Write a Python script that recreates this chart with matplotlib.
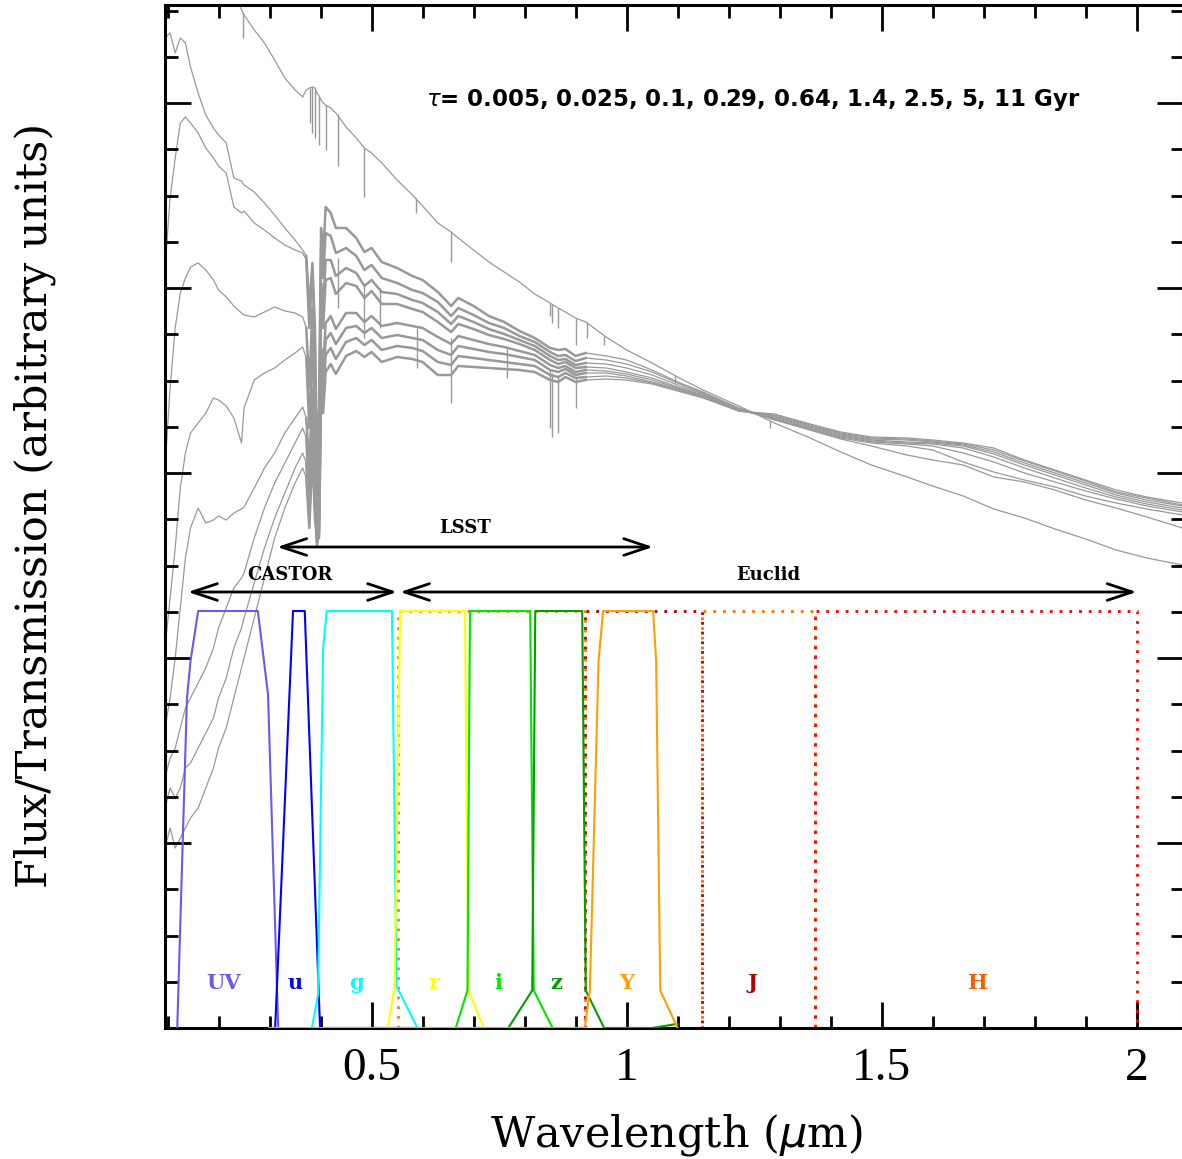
import numpy as np
import matplotlib.pyplot as plt
from matplotlib.ticker import MultipleLocator, NullFormatter

# wavelength grid (micron) shared by the model spectra
wave = [0.095, 0.105, 0.115, 0.125, 0.135, 0.145, 0.16, 0.175, 0.19, 0.20,
        0.215, 0.23, 0.245, 0.25, 0.27, 0.29, 0.31, 0.33, 0.35, 0.365,
        0.372, 0.378, 0.384, 0.389, 0.393, 0.397, 0.401, 0.405,
        0.41, 0.42, 0.43, 0.45, 0.47, 0.486, 0.50, 0.52, 0.55, 0.58,
        0.60, 0.63, 0.656, 0.67, 0.70, 0.73, 0.76, 0.79, 0.82, 0.85,
        0.866, 0.88, 0.90, 0.92, 0.96, 1.0, 1.05, 1.1, 1.15, 1.22,
        1.29, 1.36, 1.42, 1.48, 1.55, 1.60, 1.66, 1.72, 1.78, 1.84, 1.90, 1.96, 2.02, 2.09]

# model fluxes (arbitrary units), one per tau
flux_c1 = [1100, 1100, 1100, 1100, 1100, 1100, 1100, 1100, 1100, 1100,
           1090, 1040, 1018, 1013, 998, 985, 968, 950, 938, 931,
           938, 940, 941, 940, 935, 932, 928, 925,
           923, 920, 915, 901, 890, 880, 875, 865, 848, 833,
           822, 805, 796, 790, 778, 766, 756, 746, 734, 725,
           720, 716, 710, 706, 691, 678, 665, 651, 638, 622,
           605, 590, 576, 563, 551, 542, 532, 519, 510, 499, 489, 478, 470, 463]
flux_c2 = [990, 995, 975, 990, 985, 961, 935, 913, 900, 893,
           885, 850, 847, 843, 836, 825, 813, 800, 788, 778,
           772, 720, 765, 700, 560, 620, 800, 770,
           821, 815, 800, 800, 790, 776, 780, 766, 760, 752,
           748, 736, 722, 730, 722, 712, 706, 697, 690, 680,
           678, 679, 672, 675, 672, 668, 658, 646, 636, 620,
           609, 598, 589, 582, 573, 568, 563, 551, 546, 538, 528, 520, 511, 500]
flux_c3 = [760, 830, 870, 905, 911, 905, 895, 880, 870, 862,
           855, 821, 815, 817, 805, 798, 790, 783, 778, 775,
           768, 700, 760, 680, 540, 590, 780, 750,
           795, 792, 775, 780, 772, 758, 763, 750, 745, 738,
           735, 726, 712, 720, 713, 705, 700, 692, 686, 676,
           672, 673, 667, 670, 668, 664, 656, 645, 635, 619,
           608, 598, 590, 585, 582, 578, 566, 556, 548, 541, 532, 525, 519, 513]
flux_c4 = [560, 640, 700, 735, 750, 761, 765, 758, 748, 738,
           731, 722, 715, 713, 711, 716, 721, 717, 715, 711,
           700, 640, 720, 620, 520, 560, 745, 720,
           768, 768, 752, 760, 755, 742, 748, 736, 734, 728,
           725, 716, 704, 712, 706, 699, 694, 688, 682, 672,
           668, 669, 663, 665, 664, 660, 653, 643, 634, 619,
           609, 599, 591, 586, 584, 582, 575, 566, 555, 546, 537, 529, 522, 516]
flux_c5 = [380, 430, 480, 540, 575, 595, 605, 615, 630, 628,
           622, 610, 585, 620, 648, 655, 660, 668, 675, 681,
           670, 600, 690, 590, 500, 530, 720, 700,
           748, 750, 734, 745, 742, 730, 737, 724, 724, 719,
           716, 706, 696, 704, 699, 693, 689, 684, 678, 668,
           664, 666, 660, 661, 660, 656, 650, 641, 633, 618,
           610, 600, 592, 587, 585, 584, 580, 571, 560, 550, 540, 531, 524, 518]
flux_c6 = [300, 330, 370, 420, 470, 500, 520, 505, 508, 512,
           508, 515, 519, 521, 540, 560, 575, 595, 610, 621,
           610, 560, 640, 560, 490, 510, 680, 660,
           705, 712, 699, 715, 715, 706, 712, 702, 705, 702,
           700, 691, 684, 692, 688, 684, 681, 677, 673, 663,
           660, 662, 656, 658, 657, 654, 648, 640, 632, 618,
           611, 601, 593, 588, 586, 585, 582, 574, 563, 553, 543, 533, 526, 520]
flux_c7 = [250, 270, 280, 300, 320, 330, 345, 360, 380, 400,
           420, 440, 450, 455, 490, 520, 545, 565, 585, 600,
           590, 530, 610, 540, 485, 500, 660, 640,
           688, 695, 684, 700, 702, 695, 700, 690, 693, 690,
           688, 678, 673, 682, 679, 676, 674, 671, 668, 658,
           656, 659, 653, 655, 655, 652, 646, 639, 631, 617,
           612, 602, 594, 589, 588, 586, 583, 576, 565, 555, 545, 535, 528, 522]
flux_c8 = [220, 240, 230, 240, 260, 265, 280, 295, 310, 330,
           350, 380, 400, 410, 445, 480, 510, 535, 560, 575,
           565, 510, 590, 520, 483, 495, 645, 630,
           673, 680, 669, 686, 690, 683, 688, 678, 682, 680,
           677, 666, 663, 672, 670, 668, 666, 664, 662, 653,
           651, 655, 650, 651, 652, 650, 645, 638, 631, 617,
           613, 603, 595, 590, 589, 587, 584, 578, 567, 557, 547, 536, 530, 523]
flux_c9 = [180, 200, 180, 190, 200, 210, 220, 240, 260, 280,
           300, 330, 360, 370, 410, 450, 490, 520, 545, 560,
           550, 500, 575, 510, 490, 490, 630, 615,
           656, 664, 654, 672, 677, 671, 676, 666, 671, 669,
           666, 653, 653, 662, 661, 660, 659, 658, 656, 648,
           646, 651, 646, 648, 649, 648, 644, 637, 630, 617,
           614, 604, 596, 591, 590, 588, 585, 580, 568, 558, 548, 538, 531, 525]
spectra = [flux_c1, flux_c2, flux_c3, flux_c4, flux_c5, flux_c6, flux_c7, flux_c8, flux_c9]

# narrow absorption lines: wavelength, continuum, line bottom
line_wave = [0.248, 0.3798, 0.3835, 0.3889, 0.397, 0.4102, 0.434, 0.486, 0.587,
             0.6563, 0.850, 0.8545, 0.8665, 0.9015, 0.923, 0.955, 1.094, 1.282]
line_top = [1016, 940, 941, 940, 932, 923, 914, 880, 830,
            796, 725, 724, 720, 710, 706, 692, 653, 607]
line_bottom = [990, 905, 895, 890, 883, 878, 862, 831, 815,
               766, 712, 705, 700, 683, 690, 683, 645, 600]
bundle_line_wave = [0.434, 0.486, 0.517, 0.589, 0.6563, 0.7665, 0.850, 0.8545, 0.8662, 0.90]
bundle_line_top = [770, 745, 740, 700, 690, 680, 658, 655, 652, 650]
bundle_line_bottom = [720, 690, 700, 660, 625, 650, 600, 591, 595, 620]

# filter transmission curves
uv_wave = [0.119, 0.138, 0.145, 0.160, 0.277, 0.297, 0.317]
uv_trans = [0.0, 0.79, 0.88, 1.0, 1.0, 0.8, 0.0]
u_wave = [0.30, 0.311, 0.346, 0.369, 0.399, 0.60]
u_trans = [0.0, 0.0, 1.0, 1.0, 0.0, 0.0]
g_wave = [0.383, 0.395, 0.405, 0.412, 0.540, 0.549, 0.590]
g_trans = [0.0, 0.08, 0.91, 1.0, 1.0, 0.1, 0.0]
r_wave = [0.532, 0.545, 0.556, 0.683, 0.690, 0.72, 1.0]
r_trans = [0.0, 0.1, 1.0, 1.0, 0.09, 0.0, 0.0]
i_wave = [0.665, 0.688, 0.693, 0.811, 0.818, 0.855]
i_trans = [0.0, 0.09, 1.0, 1.0, 0.09, 0.0]
z_wave = [0.768, 0.815, 0.821, 0.913, 0.920, 0.956, 1.05, 1.10]
z_trans = [0.0, 0.09, 1.0, 1.0, 0.09, 0.0, 0.0, 0.01]
y_wave = [0.30, 0.918, 0.928, 0.945, 0.954, 1.052, 1.058, 1.066, 1.10]
y_trans = [0.0, 0.0, 0.09, 0.88, 1.0, 1.0, 0.88, 0.09, 0.0]

# Euclid top-hat bands (edges in micron)
euclid_edges = [(0.551, 0.918), (0.918, 1.147), (1.147, 1.37), (1.37, 2.0)]
euclid_colors = ['#ff7f00', '#b00000', '#ff7000', '#ff0000']

filter_names = ['UV', 'u', 'g', 'r', 'i', 'z', 'Y', 'J', 'H']
filter_label_x = [0.209, 0.35, 0.47, 0.623, 0.748, 0.862, 1.0, 1.246, 1.689]
filter_colors = ['#6a5aed', '#0000ff', '#00ffff', '#ffff00', '#00e600', '#00a000',
                 '#ffa000', '#b00000', '#ff5a00']

tau_text = r'$\tau$= 0.005, 0.025, 0.1, 0.29, 0.64, 1.4, 2.5, 5, 11 Gyr'

trans_scale = 417.0   # filter transmission of 1 in flux units

fig = plt.figure(figsize=(11.82, 11.59), dpi=100)
ax = fig.add_axes([165/1182, 1 - 1028/1159, 1018/1182, 1023/1159])

gray = '#999999'
for k, flux in enumerate(spectra):
    ax.plot(wave, flux, color=gray, lw=0.9, zorder=1)
    if k > 0:
        # noisy optical part of the models looks thicker
        ax.plot(wave[20:52], flux[20:52], color=gray, lw=1.8, zorder=1)
ax.vlines(line_wave, line_bottom, line_top, color=gray, lw=1.0, zorder=1)
ax.vlines(bundle_line_wave, bundle_line_bottom, bundle_line_top, color=gray, lw=1.0, zorder=1)

curves = [(uv_wave, uv_trans), (u_wave, u_trans), (g_wave, g_trans), (r_wave, r_trans),
          (i_wave, i_trans), (z_wave, z_trans), (y_wave, y_trans)]
for (w, t), c in zip(curves, filter_colors[:7]):
    ax.plot(w, np.array(t) * trans_scale, color=c, lw=1.5, zorder=3)

for (lo, hi), c in zip(euclid_edges, euclid_colors):
    ax.plot([lo, lo, hi, hi], np.array([0, 1, 1, 0]) * trans_scale, color=c,
            lw=2, ls=(0, (1, 2.5)), zorder=2)

for name, x, c in zip(filter_names, filter_label_x, filter_colors):
    ax.text(x, 45, name, color=c, ha='center', va='center', fontsize=15,
            fontweight='bold', family='DejaVu Serif')

arrow = dict(arrowstyle='<->,head_length=0.9,head_width=0.3', lw=2, color='black',
             shrinkA=0, shrinkB=0, mutation_scale=20)
ax.annotate('', xy=(0.315, 481), xytext=(1.052, 481), arrowprops=arrow)
ax.annotate('', xy=(0.140, 436), xytext=(0.550, 436), arrowprops=arrow)
ax.annotate('', xy=(0.556, 436), xytext=(2.0, 436), arrowprops=arrow)
for x, y, s in [(0.683, 500, 'LSST'), (0.34, 453, 'CASTOR'), (1.277, 453, 'Euclid')]:
    ax.text(x, y, s, ha='center', va='center', fontsize=13, fontweight='bold',
            family='DejaVu Serif')

ax.text(1.248, 928, tau_text, ha='center', va='center', fontsize=16.5, fontweight='bold')

ax.set_xlim(0.095, 2.091)
ax.set_ylim(0, 1023)
ax.xaxis.set_major_locator(MultipleLocator(0.5))
ax.xaxis.set_minor_locator(MultipleLocator(0.1))
ax.yaxis.set_major_locator(MultipleLocator(185))
ax.yaxis.set_minor_locator(MultipleLocator(46.25))
ax.yaxis.set_major_formatter(NullFormatter())
ax.xaxis.set_major_formatter(plt.FuncFormatter(lambda v, p: '%g' % v))
ax.tick_params(which='both', direction='in', top=True, right=True, width=2)
ax.tick_params(which='major', length=19)
ax.tick_params(which='minor', length=9)
ax.tick_params(axis='x', labelsize=34, pad=14)
for lab in ax.get_xticklabels():
    lab.set_family('Liberation Serif')
for s in ax.spines.values():
    s.set_linewidth(2.2)

fig.text(676/1182, 1 - 1135/1159, r'Wavelength ($\mu$m)', ha='center', va='center',
         fontsize=31, family='DejaVu Serif')
fig.text(35/1182, 1 - 505/1159, 'Flux/Transmission (arbitrary units)', ha='center',
         va='center', rotation=90, fontsize=31, family='DejaVu Serif')

fig.savefig('out.png', dpi=100)
